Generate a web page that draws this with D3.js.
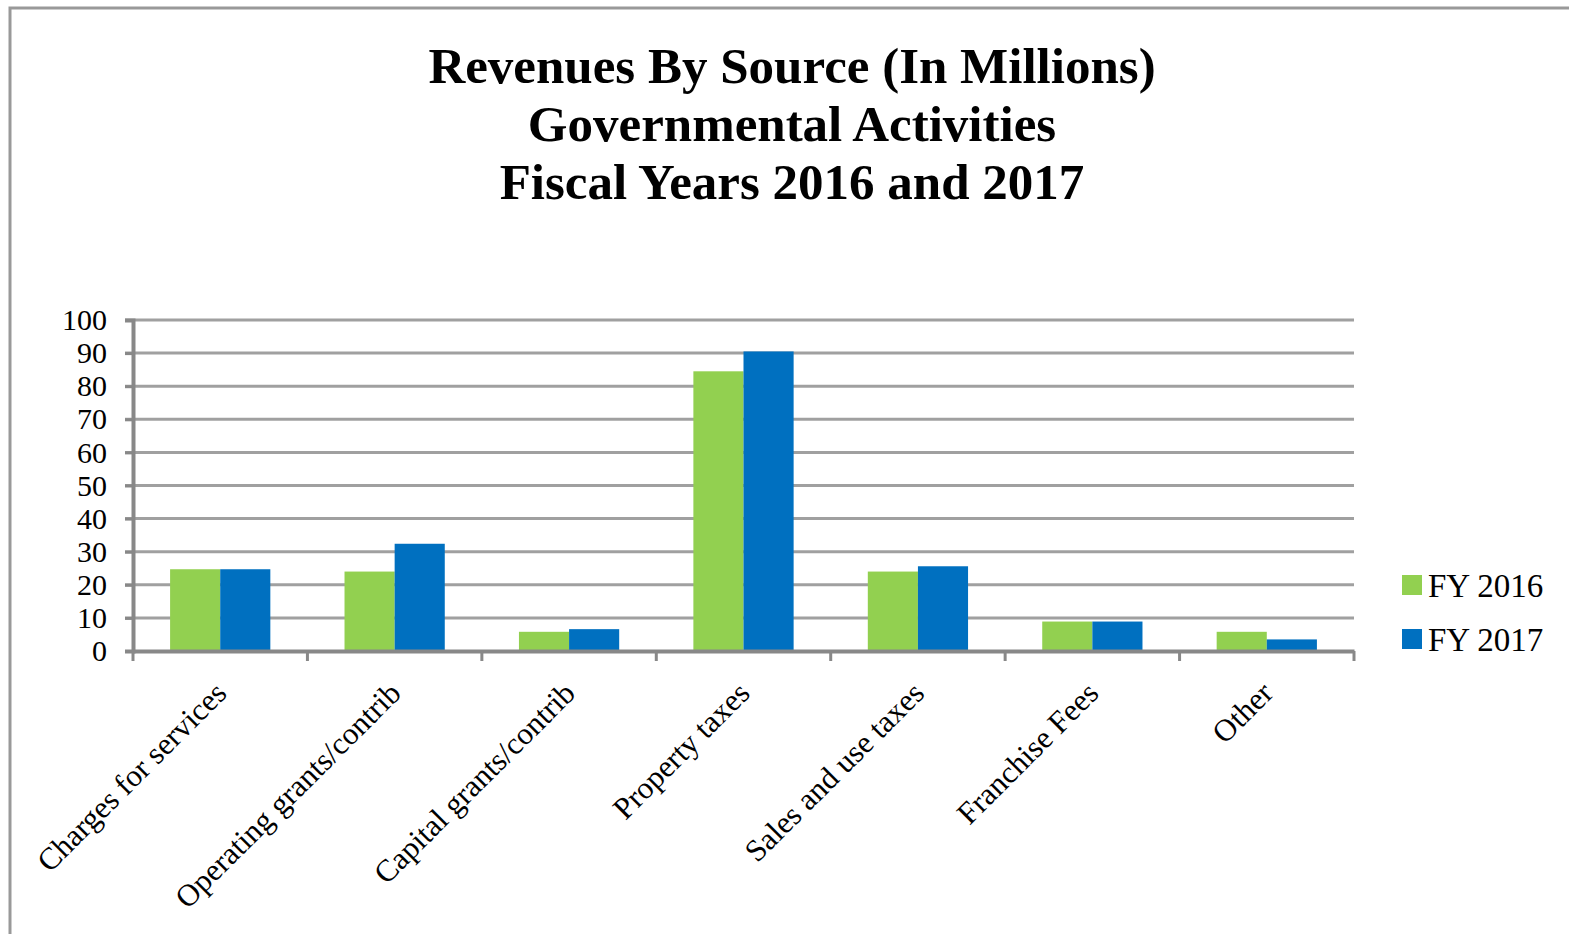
<!DOCTYPE html>
<html>
<head>
<meta charset="utf-8">
<script src="https://cdn.jsdelivr.net/npm/d3@7"></script>
<style>
  html, body { margin: 0; padding: 0; background: #fff; }
  svg { display: block; }
  text { font-family: "Liberation Serif", "Times New Roman", serif; }
</style>
</head>
<body>
<svg id="chart" width="1569" height="934"></svg>
<script>
const categories = ["Charges for services", "Operating grants/contrib", "Capital grants/contrib",
  "Property taxes", "Sales and use taxes", "Franchise Fees", "Other"];
const seriesNames = ["FY 2016", "FY 2017"];
const fy2016 = [24.7, 24.0, 5.8, 84.5, 24.0, 8.9, 5.8];
const fy2017 = [24.7, 32.4, 6.6, 90.5, 25.6, 8.9, 3.5];
const yTicks = [0, 10, 20, 30, 40, 50, 60, 70, 80, 90, 100];
const titleLines = ["Revenues By Source (In Millions)", "Governmental Activities", "Fiscal Years 2016 and 2017"];
const colors = ["#92D050", "#0070C0"];

(function () {
const svg = d3.select("#chart");

// outer border
svg.append("rect").attr("x", 10).attr("y", 8).attr("width", 1600).attr("height", 1000)
  .attr("fill", "none").attr("stroke", "#999").attr("stroke-width", 3);

// title
const title = svg.append("text").attr("text-anchor", "middle")
  .attr("font-size", 51).attr("font-weight", "bold").attr("fill", "#000");
titleLines.forEach((t, i) => {
  title.append("tspan").attr("x", 792).attr("y", 83 + i * 58).text(t);
});

const pLeft = 133, pRight = 1354, pTop = 320, pBottom = 651;

const x0 = d3.scaleBand().domain(categories).range([pLeft, pRight]).padding(0);
const x1 = d3.scaleBand().domain(seriesNames).range([0, x0.bandwidth()]).paddingInner(0).paddingOuter(0.74);
const y = d3.scaleLinear().domain([0, 100]).range([pBottom, pTop]);

// gridlines
svg.append("g").selectAll("line").data(yTicks.filter(d => d > 0)).join("line")
  .attr("x1", pLeft - 8).attr("x2", pRight)
  .attr("y1", d => y(d)).attr("y2", d => y(d))
  .attr("stroke", "#a0a0a0").attr("stroke-width", 3);

// bars
const data = categories.map((c, i) => ({ cat: c, vals: [fy2016[i], fy2017[i]] }));
const groups = svg.append("g").selectAll("g").data(data).join("g")
  .attr("transform", d => `translate(${x0(d.cat)},0)`);
groups.selectAll("rect").data(d => d.vals.map((v, j) => ({ v, s: seriesNames[j], j })))
  .join("rect")
  .attr("x", d => x1(d.s)).attr("width", x1.bandwidth())
  .attr("y", d => y(d.v)).attr("height", d => y(0) - y(d.v))
  .attr("fill", d => colors[d.j]);

// y axis
const yAxis = svg.append("g").attr("transform", `translate(${pLeft},0)`)
  .call(d3.axisLeft(y).tickValues(yTicks).tickSize(8).tickPadding(18));
yAxis.select(".domain").attr("stroke", "#888").attr("stroke-width", 4);
yAxis.selectAll(".tick line").attr("stroke", "#888").attr("stroke-width", 3);
yAxis.selectAll(".tick text").attr("font-size", 30).attr("fill", "#000")
  .attr("font-family", "'Liberation Serif', 'Times New Roman', serif");

// x axis line and ticks
const xAxis = svg.append("g").attr("transform", `translate(0,${pBottom})`)
  .call(d3.axisBottom(x0).tickSize(0).tickFormat(""));
xAxis.select(".domain").attr("stroke", "#888").attr("stroke-width", 4);
const boundaries = categories.map(c => x0(c)).concat([x0(categories[categories.length - 1]) + x0.bandwidth()]);
xAxis.append("g").selectAll("line").data(boundaries).join("line")
  .attr("x1", d => d).attr("x2", d => d).attr("y1", 0).attr("y2", 10)
  .attr("stroke", "#888").attr("stroke-width", 3);

// x labels rotated
svg.append("g").selectAll("text").data(categories).join("text")
  .attr("transform", c => `translate(${x0(c) + x0.bandwidth() / 2 + 8},${pBottom + 44}) rotate(-45)`)
  .attr("text-anchor", "end").attr("font-size", 31).attr("fill", "#000")
  .text(c => c);

// legend
const legend = svg.append("g");
seriesNames.forEach((s, i) => {
  const yy = 575 + i * 54;
  legend.append("rect").attr("x", 1402).attr("y", yy).attr("width", 20).attr("height", 20).attr("fill", colors[i]);
  legend.append("text").attr("x", 1428).attr("y", yy + 22).attr("font-size", 33).attr("fill", "#000").text(s);
});
})();
</script>
</body>
</html>
